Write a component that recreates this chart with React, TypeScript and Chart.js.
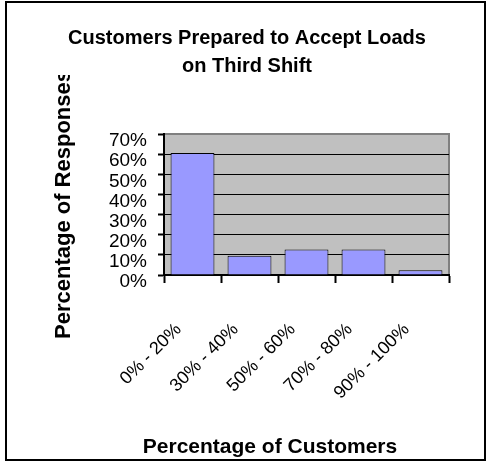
import React, { useEffect, useRef } from "react";
import { Chart, registerables } from "chart.js";

Chart.register(...registerables);

const titleLines = ["Customers Prepared to Accept Loads", "on Third Shift"];
const xAxisTitle = "Percentage of Customers";
const yAxisTitle = "Percentage of Responses";
const categories = ["0% - 20%", "30% - 40%", "50% - 60%", "70% - 80%", "90% - 100%"];
const responses = [60.6, 9.6, 12.6, 12.6, 2.4];
const yMin = 0;
const yMax = 70;
const yStep = 10;

const FONT = "'Liberation Sans', Arial, sans-serif";

const plotBackground = {
  id: "plotBackground",
  beforeDraw(chart: any) {
    const { ctx, chartArea: a } = chart;
    ctx.save();
    ctx.fillStyle = "#C0C0C0";
    ctx.fillRect(a.left, a.top, a.right - a.left, a.bottom - a.top);
    ctx.strokeStyle = "#808080";
    ctx.lineWidth = 2;
    ctx.beginPath();
    ctx.moveTo(a.left, a.top);
    ctx.lineTo(a.right, a.top);
    ctx.lineTo(a.right, a.bottom);
    ctx.stroke();
    ctx.restore();
  },
};

const axisTitles = {
  id: "axisTitles",
  afterDraw(chart: any) {
    const { ctx, chartArea: a } = chart;
    ctx.save();
    ctx.fillStyle = "#000";
    ctx.textAlign = "center";
    ctx.textBaseline = "middle";
    // x title
    ctx.font = `bold 21px ${FONT}`;
    ctx.fillText(xAxisTitle, a.left + 106, 447);
    // y title (clipped at top like the original)
    ctx.save();
    ctx.beginPath();
    ctx.rect(0, 75, chart.width, chart.height - 75);
    ctx.clip();
    ctx.translate(a.left - 100, (a.top + a.bottom) / 2);
    ctx.rotate(-Math.PI / 2);
    ctx.font = `bold 22px ${FONT}`;
    ctx.fillText(yAxisTitle, 0, 0);
    ctx.restore();
    ctx.restore();
  },
};

export default function App() {
  const ref = useRef<HTMLCanvasElement>(null);

  useEffect(() => {
    const chart = new Chart(ref.current!, {
      type: "bar",
      data: {
        labels: categories,
        datasets: [
          {
            data: responses,
            backgroundColor: "#9999FF",
            borderColor: "#000000",
            borderWidth: 1,
            barPercentage: 0.77,
            categoryPercentage: 1,
          },
        ],
      },
      options: {
        animation: false,
        responsive: false,
        devicePixelRatio: 1,
        layout: { padding: { left: 45, right: 38, top: 0, bottom: 0 } },
        plugins: {
          legend: { display: false },
          tooltip: { enabled: false },
          title: {
            display: true,
            text: titleLines,
            color: "#000",
            font: { family: FONT, size: 20, weight: "bold", lineHeight: 1.4 },
            padding: { top: 24, bottom: 54 },
          },
        },
        scales: {
          x: {
            afterFit: (s: any) => {
              s.height = 187;
            },
            grid: {
              display: true,
              drawOnChartArea: false,
              drawTicks: true,
              tickLength: 8,
              tickColor: "#000",
              tickWidth: 2,
            },
            border: { display: true, color: "#000", width: 2 },
            ticks: {
              color: "#000",
              font: { family: FONT, size: 18 },
              minRotation: 45,
              maxRotation: 45,
              autoSkip: false,
              padding: 36,
              labelOffset: -14,
            },
          },
          y: {
            min: yMin,
            max: yMax,
            afterFit: (s: any) => {
              s.width = 119;
            },
            grid: {
              color: (c: any) => (c.tick && c.tick.value === yMax ? "#808080" : "#000"),
              lineWidth: 1,
              drawTicks: true,
              tickLength: 6,
              tickColor: "#000",
              tickWidth: 2,
            },
            border: { display: true, color: "#000", width: 2 },
            ticks: {
              stepSize: yStep,
              autoSkip: false,
              color: "#000",
              font: { family: FONT, size: 19 },
              padding: 11,
              labelOffset: 7,
              callback: (v: any) => `${v}%`,
            },
          },
        },
      },
      plugins: [plotBackground, axisTitles],
    });
    return () => chart.destroy();
  }, []);

  return (
    <div style={{ position: "fixed", left: 0, top: 0, width: 487, height: 462, background: "#fff" }}>
      <div
        style={{
          position: "absolute",
          left: 5,
          top: 1,
          width: 481,
          height: 460,
          boxSizing: "border-box",
          border: "2px solid #000",
        }}
      />
      <canvas
        ref={ref}
        width={487}
        height={462}
        style={{ position: "absolute", left: 0, top: 0, width: 487, height: 462 }}
      />
    </div>
  );
}
